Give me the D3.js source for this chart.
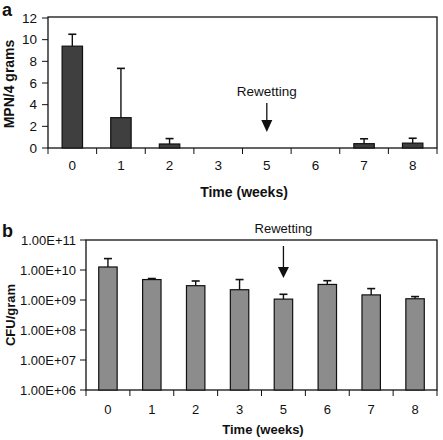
<!DOCTYPE html>
<html><head><meta charset="utf-8">
<script src="https://cdn.jsdelivr.net/npm/d3@7"></script>
<style>body{margin:0;background:#fff}svg{display:block;font-family:"Liberation Sans",Arial,sans-serif}</style>
</head><body>
<svg id="c" width="443" height="440"></svg>
<script>
const weeks = ["0","1","2","3","5","6","7","8"];
const mpnValues = [9.4, 2.8, 0.37, 0, 0, 0, 0.4, 0.45];
const mpnErrTop = [10.5, 7.35, 0.87, null, null, null, 0.85, 0.9];
const mpnTicks = [0, 2, 4, 6, 8, 10, 12];
const cfuValues = [1.26e10, 4.8e9, 3.0e9, 2.2e9, 1.07e9, 3.3e9, 1.48e9, 1.1e9];
const cfuErrTop = [2.4e10, 5.2e9, 4.3e9, 4.8e9, 1.55e9, 4.4e9, 2.4e9, 1.3e9];
const cfuTicks = [1e6, 1e7, 1e8, 1e9, 1e10, 1e11];
const xTitle = "Time (weeks)";
const rewetLabel = "Rewetting";
const rewetWeek = "5";

const svg = d3.select("#c");

function panel(opt) {
  const g = svg.append("g");
  const x = d3.scaleBand().domain(weeks).range([opt.left, opt.right]).padding(0);
  const y = opt.y;
  const bw = x.bandwidth() * 0.42;
  g.append("rect").attr("x", opt.left).attr("y", opt.top)
    .attr("width", opt.right - opt.left).attr("height", opt.bottom - opt.top)
    .attr("fill", "none").attr("stroke", "#111").attr("stroke-width", 1.3);
  const base = opt.bottom;
  g.selectAll("rect.bar").data(opt.values).join("rect").attr("class", "bar")
    .attr("x", (d, i) => x(weeks[i]) + (x.bandwidth() - bw) / 2)
    .attr("width", bw)
    .attr("y", d => y(d))
    .attr("height", d => Math.max(0, base - y(d)))
    .attr("fill", opt.fill).attr("stroke", "#111").attr("stroke-width", 1.2);
  opt.err.forEach((e, i) => {
    if (e == null) return;
    const cx = x(weeks[i]) + x.bandwidth() / 2;
    g.append("line").attr("x1", cx).attr("x2", cx).attr("y1", y(opt.values[i])).attr("y2", y(e))
      .attr("stroke", "#111").attr("stroke-width", 1.4);
    g.append("line").attr("x1", cx - 4).attr("x2", cx + 4).attr("y1", y(e)).attr("y2", y(e))
      .attr("stroke", "#111").attr("stroke-width", 1.6);
  });
  opt.ticks.forEach(t => {
    g.append("line").attr("x1", opt.left - 6).attr("x2", opt.left).attr("y1", y(t)).attr("y2", y(t))
      .attr("stroke", "#111").attr("stroke-width", 1);
    g.append("text").attr("x", opt.left - opt.labGap).attr("y", y(t)).attr("dy", "0.35em")
      .attr("text-anchor", "end").attr("font-size", opt.tickFont).attr("fill", "#111")
      .text(opt.fmt(t));
  });
  const bounds = weeks.map(w => x(w)).concat([opt.right]);
  bounds.forEach(b => {
    g.append("line").attr("x1", b).attr("x2", b).attr("y1", opt.bottom).attr("y2", opt.bottom + 6)
      .attr("stroke", "#111").attr("stroke-width", 1);
  });
  weeks.forEach(w => {
    g.append("text").attr("x", x(w) + x.bandwidth() / 2).attr("y", opt.xLabY)
      .attr("text-anchor", "middle").attr("font-size", opt.tickFont).attr("fill", "#111").text(w);
  });
  g.append("text").attr("x", opt.xTitleX).attr("y", opt.xTitleY).attr("text-anchor", "middle")
    .attr("font-size", opt.titleFont).attr("font-weight", "bold").attr("fill", "#111").text(xTitle);
  g.append("text").attr("transform", `translate(${opt.yTitleX},${opt.yTitleY}) rotate(-90)`)
    .attr("text-anchor", "middle").attr("font-size", opt.titleFont).attr("font-weight", "bold")
    .attr("fill", "#111").text(opt.yTitle);
  g.append("text").attr("x", 2).attr("y", opt.letterY).attr("font-size", 18).attr("font-weight", "bold")
    .attr("fill", "#111").text(opt.letter);
  const ax = x(rewetWeek) + x.bandwidth() / 2;
  g.append("text").attr("x", ax).attr("y", opt.rwTextY).attr("text-anchor", "middle")
    .attr("font-size", opt.rwFont).attr("fill", "#111").text(rewetLabel);
  g.append("line").attr("x1", ax).attr("x2", ax).attr("y1", opt.rwTop).attr("y2", opt.rwHead)
    .attr("stroke", "#111").attr("stroke-width", 1.3);
  g.append("path").attr("d", `M${ax - 5.5},${opt.rwHead} L${ax + 5.5},${opt.rwHead} L${ax},${opt.rwTip} Z`)
    .attr("fill", "#111");
}

panel({
  left: 48, right: 437, top: 17, bottom: 148,
  y: d3.scaleLinear().domain([0, 12]).range([148, 18]),
  values: mpnValues, err: mpnErrTop, ticks: mpnTicks, fmt: d => d,
  fill: "#3f3f3f", labGap: 11, tickFont: 13.5, xLabY: 170,
  xTitleX: 244, xTitleY: 197, titleFont: 14, yTitle: "MPN/4 grams", yTitleX: 14, yTitleY: 84,
  letter: "a", letterY: 16, rwTextY: 96, rwFont: 13.5, rwTop: 103, rwHead: 120, rwTip: 132
});

panel({
  left: 86, right: 437, top: 240, bottom: 390,
  y: d3.scaleLog().domain([1e6, 1e11]).range([390, 240]),
  values: cfuValues, err: cfuErrTop, ticks: cfuTicks,
  fmt: d => "1.00E+" + String(Math.round(Math.log10(d))).padStart(2, "0"),
  fill: "#8c8c8c", labGap: 10, tickFont: 13, xLabY: 414,
  xTitleX: 263, xTitleY: 434, titleFont: 13, yTitle: "CFU/gram", yTitleX: 15, yTitleY: 315,
  letter: "b", letterY: 237, rwTextY: 233, rwFont: 13, rwTop: 246, rwHead: 267, rwTip: 278
});
</script>
</body></html>
